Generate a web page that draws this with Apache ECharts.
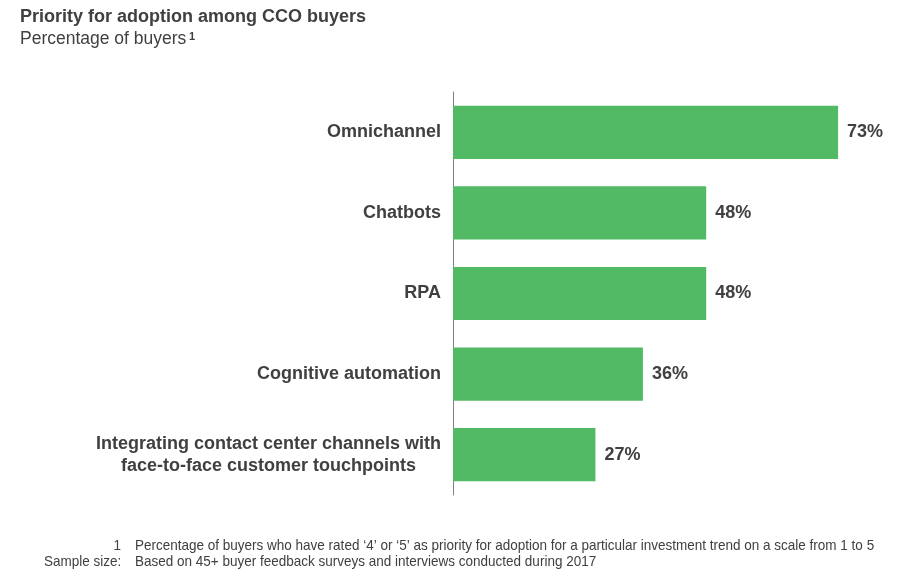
<!DOCTYPE html>
<html><head><meta charset="utf-8">
<script src="https://cdn.jsdelivr.net/npm/echarts@6/dist/echarts.min.js"></script>
<style>html,body{margin:0;padding:0;background:#fff}#c{width:901px;height:570px}</style>
</head><body><div id="c"></div>
<script>
const categories = ["Omnichannel","Chatbots","RPA","Cognitive automation","Integrating contact center channels with\nface-to-face customer touchpoints"];
const values = [73,48,48,36,27];
const footnotes = ["Percentage of buyers who have rated \u20184\u2019 or \u20185\u2019 as priority for adoption for a particular investment trend on a scale from 1 to 5","Based on 45+ buyer feedback surveys and interviews conducted during 2017"];
const footKeys = ["1","Sample size:"];
const chart = echarts.init(document.getElementById('c'));
const sans = '"Liberation Sans",Arial,sans-serif';
const footFont = '15px "Liberation Sans Narrow","Arial Narrow","Liberation Sans",Arial,sans-serif';
chart.setOption({
  animation:false,
  graphic:[
    {type:'text',left:20,top:8,style:{text:'Priority for adoption among CCO buyers',font:'bold 18px '+sans,fill:'#404040'}},
    {type:'text',left:20,top:30,style:{text:'Percentage of buyers',font:'17.5px '+sans,fill:'#404040'}},
    {type:'text',left:189,top:31,style:{text:'1',font:'bold 11px '+sans,fill:'#404040'}},
    {type:'text',x:121,y:538,scaleX:0.9,style:{text:footKeys[0],font:footFont,fill:'#404040',align:'right'}},
    {type:'text',x:135,y:538,scaleX:0.9,style:{text:footnotes[0],font:footFont,fill:'#404040'}},
    {type:'text',x:44,y:554,scaleX:0.9,style:{text:footKeys[1],font:footFont,fill:'#404040'}},
    {type:'text',x:135,y:554,scaleX:0.9,style:{text:footnotes[1],font:footFont,fill:'#404040'}}
  ],
  grid:{left:453,top:92,width:422,height:403,containLabel:false},
  xAxis:{type:'value',min:0,max:80,show:false},
  yAxis:{type:'category',data:categories,inverse:true,
    axisLine:{show:true,lineStyle:{color:'#808080',width:1}},
    axisTick:{show:false},
    axisLabel:{margin:12,color:'#404040',align:'right',
      formatter:function(v){return v.split('\n').map(function(s){return '{c|'+s+'}';}).join('\n');},
      rich:{c:{align:'center',fontSize:18,fontWeight:'bold',color:'#404040',fontFamily:sans,lineHeight:22}}
    }
  },
  series:[{type:'bar',data:values,barCategoryGap:'34%',itemStyle:{color:'#52B964'},
    label:{show:true,position:'right',distance:9,formatter:'{c}%',fontSize:18,fontWeight:'bold',color:'#404040',fontFamily:sans}}]
});
</script></body></html>
